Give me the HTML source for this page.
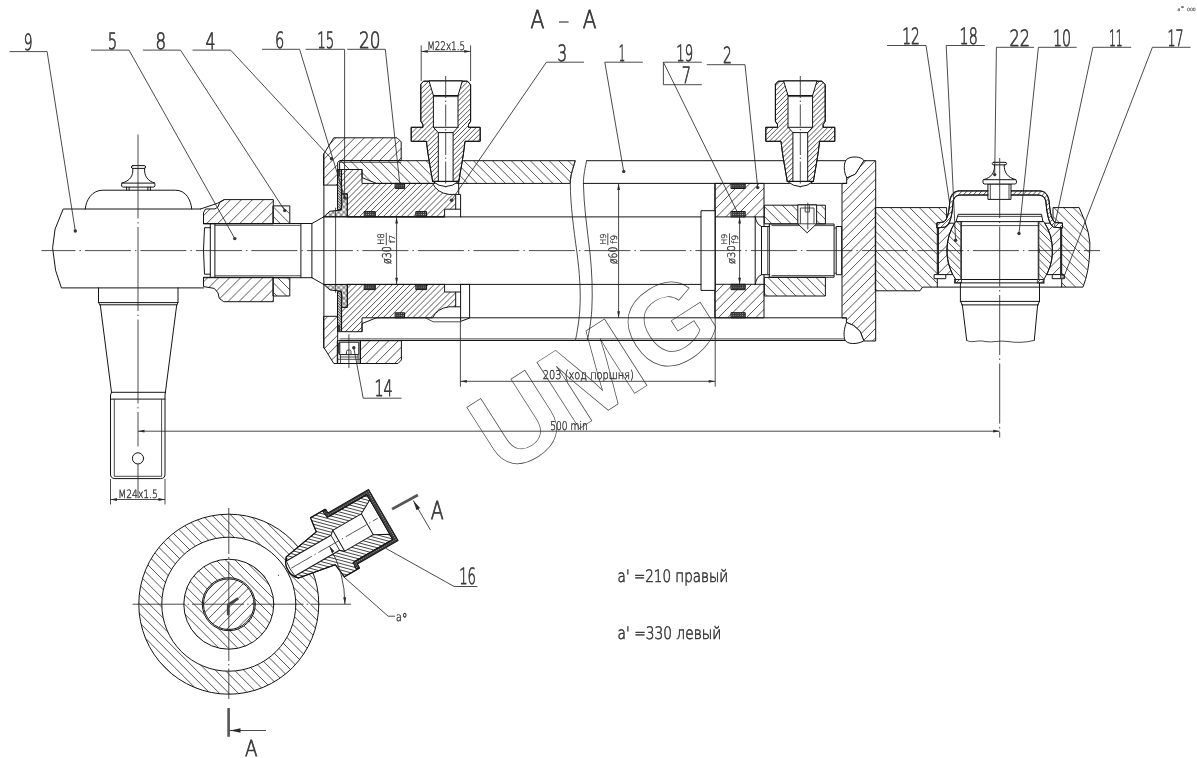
<!DOCTYPE html>
<html lang="ru"><head><meta charset="utf-8"><title>A - A</title>
<style>
html,body{margin:0;padding:0;background:#fff;}
body{width:1197px;height:758px;overflow:hidden;font-family:'DejaVu Sans Light','DejaVu Sans','Liberation Sans',sans-serif;}
svg{display:block;filter:grayscale(1)}
svg text{font-family:'DejaVu Sans Light','DejaVu Sans','Liberation Sans',sans-serif;font-weight:200;text-rendering:geometricPrecision;}
.m{stroke:#141414;stroke-width:1;stroke-linejoin:round;stroke-linecap:round}
.t{stroke:#2a2a2a;stroke-width:0.85}
.c{stroke:#2a2a2a;stroke-width:0.7;stroke-dasharray:44 3 1.5 3}
.cs{stroke:#2a2a2a;stroke-width:0.85;stroke-dasharray:22 2.5 1.5 2.5}
.k{stroke:#555;stroke-width:2.6}
</style></head>
<body>
<svg width="1197" height="758" viewBox="0 0 1197 758">
<defs>
<pattern id="fw" patternUnits="userSpaceOnUse" width="40" height="6.5" patternTransform="rotate(-45)"><line x1="0" y1="3.25" x2="40" y2="3.25" stroke="#2e2e2e" stroke-width="0.7"/></pattern>
<pattern id="fm" patternUnits="userSpaceOnUse" width="40" height="5.4" patternTransform="rotate(-45)"><line x1="0" y1="2.7" x2="40" y2="2.7" stroke="#2e2e2e" stroke-width="0.7"/></pattern>
<pattern id="fd" patternUnits="userSpaceOnUse" width="40" height="3.4" patternTransform="rotate(-45)"><line x1="0" y1="1.7" x2="40" y2="1.7" stroke="#2e2e2e" stroke-width="0.7"/></pattern>
<pattern id="ff" patternUnits="userSpaceOnUse" width="40" height="2.7" patternTransform="rotate(-45)"><line x1="0" y1="1.35" x2="40" y2="1.35" stroke="#2e2e2e" stroke-width="0.7"/></pattern>
<pattern id="bw" patternUnits="userSpaceOnUse" width="40" height="6.4" patternTransform="rotate(45)"><line x1="0" y1="3.2" x2="40" y2="3.2" stroke="#2e2e2e" stroke-width="0.7"/></pattern>
<pattern id="bm" patternUnits="userSpaceOnUse" width="40" height="5.3" patternTransform="rotate(45)"><line x1="0" y1="2.65" x2="40" y2="2.65" stroke="#2e2e2e" stroke-width="0.7"/></pattern>
<pattern id="bd" patternUnits="userSpaceOnUse" width="40" height="2.6" patternTransform="rotate(45)"><line x1="0" y1="1.3" x2="40" y2="1.3" stroke="#2e2e2e" stroke-width="0.7"/></pattern>
<pattern id="fx" patternUnits="userSpaceOnUse" width="40" height="2.6" patternTransform="rotate(-45)"><line x1="0" y1="1.3" x2="40" y2="1.3" stroke="#2e2e2e" stroke-width="0.7"/></pattern>
<pattern id="cs1" patternUnits="userSpaceOnUse" width="40" height="4.3" patternTransform="rotate(45)"><line x1="0" y1="2.15" x2="40" y2="2.15" stroke="#2e2e2e" stroke-width="0.7"/></pattern>
<pattern id="cs2" patternUnits="userSpaceOnUse" width="40" height="4.3" patternTransform="rotate(-45)"><line x1="0" y1="2.15" x2="40" y2="2.15" stroke="#2e2e2e" stroke-width="0.7"/></pattern>
<pattern id="f16" patternUnits="userSpaceOnUse" width="40" height="2.4" patternTransform="rotate(-45)"><line x1="0" y1="1.2" x2="40" y2="1.2" stroke="#333" stroke-width="0.7"/></pattern>
<pattern id="xx" patternUnits="userSpaceOnUse" width="3.8" height="3.8" patternTransform="rotate(45)"><path d="M0,1.9H3.8M1.9,0V3.8" stroke="#2a2a2a" stroke-width="0.65" fill="none"/></pattern>
<pattern id="dots" patternUnits="userSpaceOnUse" width="2.2" height="2.2"><rect width="2.2" height="2.2" fill="#3c3c3c"/><circle cx="1.1" cy="1.1" r="0.45" fill="#cfcfcf"/></pattern>
</defs>
<rect width="1197" height="758" fill="#fff"/>
<text transform="translate(503.4,477.4) rotate(-32.6)" font-size="114.5" fill="none" stroke="#4a4a4a" stroke-width="0.7" style="font-family:'Liberation Sans',sans-serif;font-weight:bold">UMG</text>
<path class="m" fill="none" d="M200.5,209.0 L63.2,209.0 L55.1,229.0 L52.6,247.8 L55.6,270.4 L61.4,287.9 L203.5,287.9"/>
<path class="m" fill="none" d="M85.2,209 C86,200 92,190.2 102.8,190.2 L175.4,190.2 C186,190.2 191,200 191.7,209"/>
<path class="m" fill="none" d="M133,165.6 H144 Q145.6,165.6 145.6,167 Q145.6,168.4 144,168.4 H133 Q131.4,168.4 131.4,167 Q131.4,165.6 133,165.6 Z"/>
<path class="m" fill="none" d="M132.8,168.4 C133.5,176 130,181 121.6,183.1 M144.6,168.4 C144,176 147.5,181 154.9,183.1"/>
<path class="m" fill="none" d="M122.6,183.1 H153.9 L154.9,184.2 V186 L153.9,187.1 H122.6 L121.6,186 V184.2 Z"/>
<path class="m" fill="none" d="M126.6,187.1 V190.2 M129.1,187.1 V190.2 M147.9,187.1 V190.2 M150.4,187.1 V190.2"/>
<path class="m" fill="none" d="M98.5,287.9 V302.6 H178 V287.9"/>
<path class="m" fill="none" d="M99.6,304.8 H177"/>
<path class="m" fill="none" d="M98.5,302.6 L100.3,305.1 L111.5,392.3 M178,302.6 L176.7,305.1 L165.4,392.3"/>
<line class="m" fill="none" x1="111.5" y1="392.3" x2="165.4" y2="392.3"/>
<line class="m" fill="none" x1="110.5" y1="399.1" x2="165.0" y2="399.1"/>
<path class="m" fill="none" d="M111.5,392.3 L110.5,395 V474 Q110.5,478.6 115,478.6 H160.5 Q165,478.6 165,474 V395 L165.4,392.3"/>
<path class="t" fill="none" d="M114.3,399.1 V476.3 H161.6 V399.1"/>
<circle class="m" fill="none" cx="138.0" cy="458.4" r="5.6"/>
<line class="t" fill="none" x1="110.5" y1="479.0" x2="110.5" y2="504.5"/>
<line class="t" fill="none" x1="165.0" y1="479.0" x2="165.0" y2="504.5"/>
<line class="t" fill="none" x1="110.5" y1="499.5" x2="165.0" y2="499.5"/>
<path fill="#2a2a2a" d="M110.5,499.5 L117.0,498.1 L117.0,500.9 Z"/>
<path fill="#2a2a2a" d="M165.0,499.5 L158.5,500.9 L158.5,498.1 Z"/>
<text transform="translate(118.30,497.80) scale(0.806,1) translate(-0.00,0)" font-size="11.39" fill="#3a3a3a" stroke="#3a3a3a" stroke-width="0.41">M24x1.5</text>
<clipPath id="c1"><path d="M203.5,223.5 L203.5,212.7 L205.5,209.0 L215.0,208.9 L218.0,207.0 L219.7,202.3 L224.3,199.6 L273.3,199.6 L273.3,223.5 Z" clip-rule="nonzero"/></clipPath>
<path clip-path="url(#c1)" fill="none" stroke="#2c2c2c" stroke-width="0.8" d="M207.5,189.6L216.4,180.7M200.7,207.4L234.3,173.9M201.1,218.1L244.9,174.2M203.6,226.6L253.4,176.8M207.6,233.6L260.5,180.8M212.8,239.5L266.3,185.9M219.1,244.2L271.0,192.3M226.7,247.6L274.4,199.9M236.0,249.4L276.2,209.1M248.3,248.1L275.0,221.4"/>
<path class="m" fill="none" d="M203.5,223.5 L203.5,212.7 L205.5,209.0 L215.0,208.9 L218.0,207.0 L219.7,202.3 L224.3,199.6 L273.3,199.6 L273.3,223.5 Z"/>
<clipPath id="c2"><path d="M203.5,277.7 L203.5,286.6 L214.3,288.4 L218.0,292.9 L219.3,298.4 L223.8,301.7 L273.3,301.7 L273.3,277.7 Z" clip-rule="nonzero"/></clipPath>
<path clip-path="url(#c2)" fill="none" stroke="#2c2c2c" stroke-width="0.8" d="M200.9,284.5L233.2,252.2M200.9,295.5L244.2,252.2M203.3,304.1L252.8,254.6M207.2,311.2L259.9,258.5M212.3,317.2L265.9,263.6M218.5,322.0L270.7,269.8M226.0,325.5L274.2,277.3M235.1,327.5L276.2,286.4M247.0,326.6L275.3,298.3"/>
<path class="m" fill="none" d="M203.5,277.7 L203.5,286.6 L214.3,288.4 L218.0,292.9 L219.3,298.4 L223.8,301.7 L273.3,301.7 L273.3,277.7 Z"/>
<path class="m" fill="none" d="M200.5,209.0 L217.7,203.2 L224.3,199.6"/>
<line class="m" fill="none" x1="203.5" y1="223.5" x2="311.9" y2="223.5"/>
<line class="m" fill="none" x1="203.5" y1="277.7" x2="311.9" y2="277.7"/>
<line class="t" fill="none" x1="214.9" y1="225.3" x2="300.9" y2="225.3"/>
<line class="t" fill="none" x1="214.9" y1="275.8" x2="300.9" y2="275.8"/>
<line class="m" fill="none" x1="210.3" y1="223.5" x2="210.3" y2="277.7"/>
<line class="m" fill="none" x1="214.9" y1="223.5" x2="214.9" y2="277.7"/>
<path class="m" fill="none" d="M210.3,227.7 H204.5 L203.5,250 L204.5,274.2 H210.3"/>
<clipPath id="c3"><path d="M273.3,205.9 H289.8 V223.5 H273.3 Z" clip-rule="nonzero"/></clipPath>
<path clip-path="url(#c3)" fill="none" stroke="#2c2c2c" stroke-width="0.8" d="M290.1,204.8L291.4,206.1M277.9,202.1L294.1,218.3M272.1,205.7L290.5,224.2M268.8,211.9L284.3,227.5"/>
<rect class="m" fill="none" x="273.3" y="205.9" width="16.5" height="17.6"/>
<clipPath id="c4"><path d="M273.3,277.7 H289.8 V296.0 H273.3 Z" clip-rule="nonzero"/></clipPath>
<path clip-path="url(#c4)" fill="none" stroke="#2c2c2c" stroke-width="0.8" d="M283.1,273.6L294.8,285.3M275.2,275.2L293.2,293.2M270.3,279.8L288.6,298.1M268.2,287.2L281.2,300.2"/>
<rect class="m" fill="none" x="273.3" y="277.7" width="16.5" height="18.3"/>
<line class="m" fill="none" x1="300.9" y1="223.5" x2="300.9" y2="277.7"/>
<line class="m" fill="none" x1="311.9" y1="223.5" x2="311.9" y2="277.7"/>
<line class="m" fill="none" x1="311.9" y1="223.5" x2="323.6" y2="216.9"/>
<line class="m" fill="none" x1="311.9" y1="277.7" x2="323.6" y2="284.4"/>
<line class="m" fill="none" x1="323.9" y1="153.8" x2="323.9" y2="348.0"/>
<line class="t" fill="none" x1="335.6" y1="207.7" x2="335.6" y2="292.7"/>
<line class="m" fill="none" x1="323.6" y1="216.9" x2="701.4" y2="216.9"/>
<line class="m" fill="none" x1="323.6" y1="284.4" x2="701.4" y2="284.4"/>
<clipPath id="c5"><path d="M341,160.7 H575.3 C571.6,172 570.2,178 570.3,183.4 H376.4 L362,177.6 V169.5 H339.6 V162.2 Q339.6,160.7 341,160.7 Z" clip-rule="nonzero"/></clipPath>
<path clip-path="url(#c5)" fill="none" stroke="#2c2c2c" stroke-width="0.8" d="M510.3,65.0L564.5,119.2M494.4,58.5L571.0,135.1M481.5,55.1L574.4,148.0M470.3,53.3L576.2,159.2M460.1,52.7L576.8,169.4M450.8,52.8L576.7,178.7M442.1,53.6L575.9,187.4M434.0,55.0L574.5,195.5M426.3,56.8L572.7,203.2M419.1,59.0L570.5,210.4M412.2,61.6L567.9,217.3M405.6,64.5L565.0,223.9M399.4,67.7L561.8,230.1M393.4,71.3L558.2,236.1M387.8,75.1L554.4,241.7M382.4,79.2L550.3,247.1M377.3,83.6L545.9,252.2M372.5,88.2L541.3,257.0M367.9,93.1L536.4,261.6M363.6,98.3L531.2,265.9M359.5,103.7L525.8,270.0M355.8,109.4L520.1,273.7M352.3,115.4L514.1,277.2M349.2,121.8L507.7,280.3M346.3,128.4L501.1,283.2M343.8,135.4L494.1,285.7M341.7,142.7L486.8,287.8M340.0,150.5L479.0,289.5M338.8,158.8L470.7,290.7M338.1,167.6L461.9,291.4M338.2,177.1L452.4,291.3M339.1,187.4L442.1,290.4M341.1,199.0L430.5,288.4M345.1,212.4L417.1,284.4M352.9,229.7L399.8,276.6"/>
<path class="m" fill="none" d="M341,160.7 H575.3 C571.6,172 570.2,178 570.3,183.4 H376.4 L362,177.6 V169.5 H339.6 V162.2 Q339.6,160.7 341,160.7 Z"/>
<line class="t" fill="none" x1="339.6" y1="162.3" x2="401.2" y2="162.3"/>
<line class="m" fill="none" x1="586.6" y1="160.7" x2="864.0" y2="160.7"/>
<line class="m" fill="none" x1="583.4" y1="183.4" x2="846.7" y2="183.4"/>
<line class="m" fill="none" x1="376.4" y1="317.8" x2="846.4" y2="317.8"/>
<line class="t" fill="none" x1="339.6" y1="338.9" x2="846.4" y2="338.9"/>
<line class="m" fill="none" x1="339.6" y1="340.5" x2="846.4" y2="340.5"/>
<path class="m" fill="none" d="M362,331.7 V323.6 L376.4,317.8"/>
<path class="t" fill="none" d="M575.3,160.7 C571.6,172 570.2,178 570.3,183.4 C570.5,205 573.5,228 577,253 C579.5,272 581,292 579.8,310 C579,322 577,333 575.3,341"/>
<path class="t" fill="none" d="M586.6,160.7 C584.2,172 583.4,178 583.4,183.4 C583.8,205 587,228 590,253 C592,272 592.8,292 591.8,310 C591,322 589,333 587.1,341"/>
<clipPath id="c6"><path d="M323.9,153.8 L333.8,137.8 L397.1,137.8 L401.2,141.9 L401.2,160.5 L339.6,160.5 L337.7,162.5 L337.7,185.1 L323.9,185.1 Z" clip-rule="nonzero"/></clipPath>
<path clip-path="url(#c6)" fill="none" stroke="#2c2c2c" stroke-width="0.8" d="M319.2,145.0L346.1,118.1M316.4,157.3L358.4,115.3M316.5,166.7L367.8,115.4M318.1,174.6L375.7,117.0M320.8,181.4L382.5,119.7M324.2,187.4L388.5,123.1M328.4,192.7L393.8,127.3M333.3,197.3L398.4,132.2M338.9,201.2L402.3,137.8M345.2,204.4L405.5,144.1M352.4,206.6L407.7,151.3M360.8,207.7L408.8,159.7M371.0,207.0L408.1,169.9M386.2,201.3L402.4,185.1"/>
<path class="m" fill="none" d="M323.9,153.8 L333.8,137.8 L397.1,137.8 L401.2,141.9 L401.2,160.5 L339.6,160.5 L337.7,162.5 L337.7,185.1 L323.9,185.1 Z"/>
<clipPath id="c7"><path d="M323.9,316.3 L337.7,316.3 L337.7,363.5 L333.8,363.5 L323.9,347.5 Z" clip-rule="nonzero"/></clipPath>
<path clip-path="url(#c7)" fill="none" stroke="#2c2c2c" stroke-width="0.8" d="M310.4,324.4L315.3,319.5M305.2,339.1L330.0,314.3M306.3,347.4L338.3,315.4M309.4,353.9L344.8,318.5M313.8,359.0L349.9,322.9M319.4,362.8L353.7,328.5M326.6,365.1L356.0,335.7M336.3,364.9L355.8,345.4"/>
<path class="m" fill="none" d="M323.9,316.3 L337.7,316.3 L337.7,363.5 L333.8,363.5 L323.9,347.5 Z"/>
<clipPath id="c8"><path d="M360.5,340.7 L401.4,340.7 L401.4,360.0 L398.0,363.5 L360.5,363.5 Z" clip-rule="nonzero"/></clipPath>
<path clip-path="url(#c8)" fill="none" stroke="#2c2c2c" stroke-width="0.8" d="M358.4,342.8L371.6,329.5M356.6,354.0L382.9,327.8M358.5,361.6L390.5,329.6M362.0,367.5L396.4,333.2M367.0,372.1L401.0,338.1M373.3,375.3L404.1,344.4M381.5,376.5L405.4,352.7M397.0,370.5L399.4,368.1"/>
<path class="m" fill="none" d="M360.5,340.7 L401.4,340.7 L401.4,360.0 L398.0,363.5 L360.5,363.5 Z"/>
<rect class="m" fill="none" x="337.7" y="340.7" width="22.8" height="22.8"/>
<rect class="m" fill="none" x="339.6" y="342.2" width="19.2" height="12.4"/>
<rect class="t" fill="#777" x="338.6" y="343.5" width="1.3" height="9.5"/>
<path class="t" fill="none" d="M339.6,357 H358.8 M340.5,354.6 V363.5 M358,354.6 V363.5 M346.5,354.6 V351.5 Q346.5,350 348,350 H349.5 Q351,350 351,351.5 V354.6"/>
<line class="t" fill="none" x1="337.7" y1="359.3" x2="360.5" y2="359.3"/>
<line class="t" fill="none" x1="348.9" y1="334.3" x2="348.9" y2="368.1"/>
<rect class="m" fill="#d0d0d0" x="337.9" y="169.5" width="3.5" height="40.1"/>
<clipPath id="c9"><path d="M337.9,169.5 H341.4 V209.6 H337.9 Z" clip-rule="nonzero"/></clipPath>
<path clip-path="url(#c9)" fill="none" stroke="#222" stroke-width="0.8" d="M347.1,169.8L359.4,182.1M343.4,168.8L360.4,185.8M340.4,168.4L360.8,188.8M337.8,168.5L360.7,191.4M335.4,168.8L360.4,193.8M333.3,169.4L359.8,195.9M331.3,170.1L359.1,197.9M329.5,171.0L358.2,199.7M327.9,172.0L357.2,201.3M326.3,173.2L356.0,202.9M324.9,174.4L354.8,204.3M323.6,175.8L353.4,205.6M322.4,177.3L351.9,206.8M321.4,179.0L350.2,207.8M320.5,180.7L348.5,208.7M319.7,182.6L346.6,209.5M319.1,184.7L344.5,210.1M318.7,187.0L342.2,210.5M318.5,189.5L339.7,210.7M318.7,192.4L336.8,210.5M319.5,195.9L333.3,209.7M321.9,200.9L328.3,207.3"/>
<rect class="t" fill="#666" x="338.3" y="170.0" width="1.3" height="6.0"/>
<path class="m" fill="url(#xx)" d="M341.9,193.9 L347.3,193.9 L347.3,216.7 L323.9,216.7 L330.0,211.2 L340.7,210.2 L341.9,205.2 Z"/>
<rect class="m" fill="#d0d0d0" x="337.9" y="291.6" width="3.5" height="40.1"/>
<clipPath id="c10"><path d="M337.9,291.6 H341.4 V331.7 H337.9 Z" clip-rule="nonzero"/></clipPath>
<path clip-path="url(#c10)" fill="none" stroke="#222" stroke-width="0.8" d="M349.3,292.8L358.5,302.0M344.9,291.2L360.1,306.4M341.7,290.6L360.7,309.6M338.9,290.5L360.8,312.4M336.4,290.8L360.5,314.9M334.2,291.2L360.1,317.1M332.2,291.9L359.4,319.1M330.3,292.7L358.6,321.0M328.6,293.7L357.6,322.7M327.0,294.7L356.6,324.3M325.5,296.0L355.3,325.8M324.2,297.3L354.0,327.1M322.9,298.7L352.6,328.4M321.8,300.3L351.0,329.5M320.8,302.0L349.3,330.5M320.0,303.9L347.4,331.3M319.3,305.9L345.4,332.0M318.8,308.1L343.2,332.5M318.6,310.5L340.8,332.7M318.6,313.2L338.1,332.7M319.1,316.4L334.9,332.2M320.4,320.4L330.9,330.9"/>
<rect class="t" fill="#666" x="338.3" y="325.2" width="1.3" height="6.0"/>
<path class="m" fill="url(#xx)" d="M341.9,307.3 L347.3,307.3 L347.3,284.5 L323.9,284.5 L330.0,290.0 L340.7,291.0 L341.9,296.0 Z"/>
<clipPath id="c11"><path d="M342,169.5 H362 V183.4 H432.6 Q437,192.8 449,194.4 H455.7 V209.2 H444.6 V216.7 H347.3 V193.9 H342 Z" clip-rule="nonzero"/></clipPath>
<path clip-path="url(#c11)" fill="none" stroke="#2c2c2c" stroke-width="0.8" d="M347.5,157.4L363.1,141.8M340.7,170.2L375.9,134.9M338.0,178.8L384.6,132.2M336.7,186.0L391.7,131.0M336.3,192.3L398.1,130.6M336.5,198.1L403.8,130.7M337.1,203.4L409.1,131.4M338.2,208.3L414.0,132.4M339.5,212.9L418.6,133.8M341.1,217.2L423.0,135.4M343.0,221.3L427.0,137.2M345.1,225.1L430.9,139.4M347.4,228.7L434.5,141.7M350.0,232.1L437.9,144.2M352.7,235.3L441.1,147.0M355.6,238.3L444.1,149.9M358.8,241.1L446.9,153.0M362.1,243.7L449.5,156.4M365.7,246.1L451.9,159.9M369.4,248.3L454.1,163.7M373.4,250.3L456.0,167.7M377.7,252.0L457.7,171.9M382.2,253.4L459.1,176.4M387.0,254.5L460.3,181.2M392.1,255.3L461.0,186.4M397.7,255.6L461.4,192.0M403.9,255.5L461.2,198.1M410.7,254.5L460.3,205.0M418.8,252.4L458.1,213.0M429.5,247.6L453.4,223.7"/>
<path class="m" fill="none" d="M342,169.5 H362 V183.4 H432.6 Q437,192.8 449,194.4 H455.7 V209.2 H444.6 V216.7 H347.3 V193.9 H342 Z"/>
<path class="m" fill="none" d="M455.7,194.4 H460.6 V216.9 M455.7,209.2 H460.6"/>
<rect class="m" fill="url(#dots)" x="395.5" y="183.4" width="9.1" height="5.0"/>
<rect class="m" fill="url(#dots)" x="364.6" y="211.6" width="10.7" height="5.1"/>
<rect class="m" fill="url(#dots)" x="416.2" y="211.6" width="10.4" height="5.1"/>
<clipPath id="c12"><path d="M342,331.7 H362 V317.8 H432.6 Q437,308.4 449,306.8 H455.7 V292.0 H444.6 V284.5 H347.3 V307.3 H342 Z" clip-rule="nonzero"/></clipPath>
<path clip-path="url(#c12)" fill="none" stroke="#2c2c2c" stroke-width="0.8" d="M342.3,281.4L372.1,251.5M338.7,290.9L381.7,248.0M337.0,298.5L389.3,246.3M336.4,305.1L395.9,245.6M336.4,311.1L401.8,245.6M336.9,316.5L407.3,246.1M337.8,321.5L412.3,247.0M339.0,326.3L417.0,248.2M340.5,330.7L421.4,249.8M342.3,334.8L425.6,251.5M344.3,338.7L429.5,253.6M346.6,342.4L433.2,255.8M349.0,345.9L436.7,258.3M351.7,349.2L439.9,260.9M354.6,352.3L443.0,263.8M357.6,355.1L445.9,266.9M360.9,357.8L448.6,270.1M364.4,360.3L451.0,273.6M368.0,362.5L453.3,277.3M371.9,364.6L455.3,281.2M376.1,366.4L457.1,285.3M380.5,367.9L458.7,289.7M385.2,369.1L459.9,294.4M390.2,370.1L460.8,299.5M395.6,370.6L461.3,304.9M401.6,370.6L461.3,310.8M408.1,370.0L460.7,317.4M415.7,368.3L459.1,324.9M425.1,364.9L455.6,334.4"/>
<path class="m" fill="none" d="M342,331.7 H362 V317.8 H432.6 Q437,308.4 449,306.8 H455.7 V292.0 H444.6 V284.5 H347.3 V307.3 H342 Z"/>
<path class="m" fill="none" d="M455.7,306.8 H460.6 V284.3 M455.7,292.0 H460.6"/>
<rect class="m" fill="url(#dots)" x="395.5" y="312.8" width="9.1" height="5.0"/>
<rect class="m" fill="url(#dots)" x="364.6" y="284.5" width="10.7" height="5.1"/>
<rect class="m" fill="url(#dots)" x="416.2" y="284.5" width="10.4" height="5.1"/>
<line class="m" fill="none" x1="347.3" y1="216.9" x2="444.4" y2="216.9"/>
<line class="m" fill="none" x1="347.3" y1="284.4" x2="444.4" y2="284.4"/>
<path class="m" fill="none" d="M460.6,306.8 V321.4 L469.6,318.1 V284.4"/>
<path class="t" fill="none" d="M425.5,317.9 L433.2,321.8 H460.4"/>
<line class="m" fill="none" x1="460.4" y1="284.4" x2="469.6" y2="284.4"/>
<path class="m" fill="#fff" d="M432.6,181.4 Q445.7,192 458.8,181.4 Z"/>
<path class="m" fill="#fff" d="M424.0,81.2 H467.4 L470.6,84.6 V121.2 L468.5,124.6 V127.3 H480.2 V141.3 H465.0 C463.2,158 460.2,172 458.8,181.4 H432.6 C431.2,172 428.2,158 426.4,141.3 H411.2 V127.3 H422.9 V124.6 L420.8,121.2 V84.6 Z"/>
<clipPath id="c13"><path d="M424.0,81.2 H467.4 L470.6,84.6 V121.2 L468.5,124.6 V127.3 H480.2 V141.3 H465.0 C463.2,158 460.2,172 458.8,181.4 H432.6 C431.2,172 428.2,158 426.4,141.3 H411.2 V127.3 H422.9 V124.6 L420.8,121.2 V84.6 Z" clip-rule="nonzero"/></clipPath>
<path clip-path="url(#c13)" fill="none" stroke="#2c2c2c" stroke-width="0.8" d="M397.7,92.3L406.7,83.3M389.5,105.4L419.8,75.1M386.5,113.4L427.8,72.1M384.9,120.0L434.4,70.5M384.1,125.7L440.1,69.7M383.9,130.9L445.3,69.5M384.0,135.7L450.1,69.6M384.5,140.2L454.6,70.1M385.3,144.4L458.8,70.9M386.3,148.3L462.7,71.9M387.5,152.1L466.5,73.1M388.9,155.6L470.0,74.5M390.4,159.0L473.4,76.0M392.2,162.2L476.6,77.8M394.0,165.3L479.7,79.6M396.1,168.2L482.6,81.7M398.3,171.0L485.4,83.9M400.6,173.6L488.0,86.2M403.1,176.1L490.5,88.7M405.7,178.4L492.8,91.3M408.4,180.6L495.0,94.0M411.3,182.7L497.1,96.9M414.3,184.6L499.0,99.9M417.5,186.3L500.7,103.1M420.9,187.9L502.3,106.5M424.4,189.4L503.8,110.0M428.1,190.6L505.0,113.7M432.1,191.6L506.0,117.7M436.2,192.4L506.8,121.8M440.6,192.9L507.3,126.2M445.4,193.1L507.5,131.0M450.5,192.9L507.3,136.1M456.2,192.2L506.6,141.8M462.6,190.8L505.2,148.2M470.3,188.0L502.4,155.9M481.7,181.6L496.0,167.3"/>
<path class="m" fill="none" d="M424.0,81.2 H467.4 L470.6,84.6 V121.2 L468.5,124.6 V127.3 H480.2 V141.3 H465.0 C463.2,158 460.2,172 458.8,181.4 H432.6 C431.2,172 428.2,158 426.4,141.3 H411.2 V127.3 H422.9 V124.6 L420.8,121.2 V84.6 Z"/>
<path class="m" fill="#fff" d="M429.1,81.2 L433.4,95.5 V127.3 L438.3,132.6 V181.4 H453.1 V132.6 L458.0,127.3 V95.5 L462.3,81.2 Z"/>
<line class="m" fill="none" x1="433.4" y1="95.5" x2="458.0" y2="95.5"/>
<line class="t" fill="none" x1="433.4" y1="96.6" x2="458.0" y2="96.6"/>
<line class="m" fill="none" x1="433.4" y1="127.3" x2="458.0" y2="127.3"/>
<line class="m" fill="none" x1="438.3" y1="132.6" x2="453.1" y2="132.6"/>
<line class="m" fill="none" x1="432.6" y1="181.4" x2="458.8" y2="181.4"/>
<line class="cs" fill="none" x1="445.7" y1="76.0" x2="445.7" y2="190.0"/>
<line class="m" fill="none" x1="458.7" y1="181.4" x2="458.7" y2="194.4"/>
<path class="m" fill="#fff" d="M787.2,181.4 Q800.3,192 813.4,181.4 Z"/>
<path class="m" fill="#fff" d="M778.6,81.2 H822.0 L825.2,84.6 V121.2 L823.1,124.6 V127.3 H834.8 V141.3 H819.6 C817.8,158 814.8,172 813.4,181.4 H787.2 C785.8,172 782.8,158 781.0,141.3 H765.8 V127.3 H777.5 V124.6 L775.4,121.2 V84.6 Z"/>
<clipPath id="c14"><path d="M778.6,81.2 H822.0 L825.2,84.6 V121.2 L823.1,124.6 V127.3 H834.8 V141.3 H819.6 C817.8,158 814.8,172 813.4,181.4 H787.2 C785.8,172 782.8,158 781.0,141.3 H765.8 V127.3 H777.5 V124.6 L775.4,121.2 V84.6 Z" clip-rule="nonzero"/></clipPath>
<path clip-path="url(#c14)" fill="none" stroke="#2c2c2c" stroke-width="0.8" d="M747.9,98.6L767.6,78.9M742.8,108.5L777.5,73.8M740.4,115.9L784.9,71.4M739.2,122.1L791.1,70.2M738.6,127.6L796.6,69.6M738.5,132.7L801.7,69.5M738.8,137.3L806.3,69.8M739.4,141.7L810.7,70.4M740.2,145.8L814.8,71.2M741.3,149.7L818.7,72.3M742.5,153.4L822.4,73.5M744.0,156.9L825.9,75.0M745.6,160.2L829.2,76.6M747.4,163.3L832.3,78.4M749.4,166.3L835.3,80.4M751.5,169.2L838.2,82.5M753.7,171.9L840.9,84.7M756.1,174.5L843.5,87.1M758.6,176.9L845.9,89.6M761.2,179.2L848.2,92.2M764.0,181.4L850.4,95.0M767.0,183.4L852.4,98.0M770.1,185.2L854.2,101.1M773.3,186.9L855.9,104.3M776.7,188.5L857.5,107.7M780.3,189.8L858.8,111.3M784.1,191.0L860.0,115.1M788.1,191.9L860.9,119.1M792.4,192.6L861.6,123.4M796.9,193.0L862.0,127.9M801.8,193.1L862.1,132.8M807.1,192.8L861.8,138.1M813.0,191.8L860.8,144.0M819.8,190.0L859.0,150.8M828.2,186.5L855.5,159.2"/>
<path class="m" fill="none" d="M778.6,81.2 H822.0 L825.2,84.6 V121.2 L823.1,124.6 V127.3 H834.8 V141.3 H819.6 C817.8,158 814.8,172 813.4,181.4 H787.2 C785.8,172 782.8,158 781.0,141.3 H765.8 V127.3 H777.5 V124.6 L775.4,121.2 V84.6 Z"/>
<path class="m" fill="#fff" d="M783.7,81.2 L788.0,95.5 V127.3 L792.9,132.6 V181.4 H807.7 V132.6 L812.6,127.3 V95.5 L816.9,81.2 Z"/>
<line class="m" fill="none" x1="788.0" y1="95.5" x2="812.6" y2="95.5"/>
<line class="t" fill="none" x1="788.0" y1="96.6" x2="812.6" y2="96.6"/>
<line class="m" fill="none" x1="788.0" y1="127.3" x2="812.6" y2="127.3"/>
<line class="m" fill="none" x1="792.9" y1="132.6" x2="807.7" y2="132.6"/>
<line class="m" fill="none" x1="787.2" y1="181.4" x2="813.4" y2="181.4"/>
<line class="cs" fill="none" x1="800.3" y1="76.0" x2="800.3" y2="190.0"/>
<line class="t" fill="none" x1="421.2" y1="45.4" x2="421.2" y2="81.0"/>
<line class="t" fill="none" x1="470.6" y1="45.4" x2="470.6" y2="81.0"/>
<line class="t" fill="none" x1="421.2" y1="51.4" x2="470.6" y2="51.4"/>
<path fill="#2a2a2a" d="M421.2,51.4 L427.7,50.0 L427.7,52.8 Z"/>
<path fill="#2a2a2a" d="M470.6,51.4 L464.1,52.8 L464.1,50.0 Z"/>
<text transform="translate(427.20,50.00) scale(0.743,1) translate(-0.00,0)" font-size="11.80" fill="#3a3a3a" stroke="#3a3a3a" stroke-width="0.42">M22x1.5</text>
<clipPath id="c15"><path d="M715.2,183.4 H764 V216.9 H715.2 Z" clip-rule="nonzero"/></clipPath>
<path clip-path="url(#c15)" fill="none" stroke="#2c2c2c" stroke-width="0.8" d="M709.3,196.1L735.6,169.8M709.4,205.3L744.7,170.0M711.6,212.5L751.9,172.1M715.0,218.4L757.8,175.6M719.5,223.2L762.7,180.0M725.0,227.0L766.5,185.6M731.7,229.7L769.2,192.2M740.0,230.7L770.2,200.5M751.9,228.2L767.6,212.4"/>
<path class="m" fill="none" d="M715.2,183.4 H764 V216.9 H715.2 Z"/>
<line class="m" fill="none" x1="764.0" y1="216.9" x2="764.0" y2="226.5"/>
<rect class="m" fill="url(#dots)" x="731.4" y="183.4" width="13.8" height="5.1"/>
<rect class="m" fill="url(#dots)" x="731.4" y="211.5" width="13.8" height="5.4"/>
<clipPath id="c16"><path d="M764.7,205.2 H825.4 V223.8 H764.7 Z" clip-rule="nonzero"/></clipPath>
<path clip-path="url(#c16)" fill="none" stroke="#2c2c2c" stroke-width="0.8" d="M811.0,185.9L823.7,198.6M797.3,181.8L827.7,212.2M788.3,182.5L827.1,221.2M781.1,184.9L824.7,228.4M775.1,188.5L821.0,234.4M770.2,193.2L816.4,239.4M766.3,198.9L810.7,243.3M763.5,205.7L803.8,246.0M762.3,214.2L795.4,247.2M764.3,225.8L783.8,245.2"/>
<rect class="m" fill="none" x="764.7" y="205.2" width="60.7" height="18.6"/>
<path class="m" fill="none" d="M755.2,216.9 Q756.5,224.5 761.5,226.5 H769.7"/>
<clipPath id="c17"><path d="M715.2,317.8 H764 V284.3 H715.2 Z" clip-rule="nonzero"/></clipPath>
<path clip-path="url(#c17)" fill="none" stroke="#2c2c2c" stroke-width="0.8" d="M713.3,285.4L724.0,274.7M709.1,299.0L737.5,270.5M709.7,307.7L746.2,271.2M712.2,314.6L753.1,273.6M715.8,320.3L758.8,277.2M720.5,324.9L763.5,281.9M726.2,328.5L767.1,287.6M733.1,330.9L769.5,294.6M741.8,331.6L770.1,303.3M755.6,327.1L765.7,317.0"/>
<path class="m" fill="none" d="M715.2,317.8 H764 V284.3 H715.2 Z"/>
<line class="m" fill="none" x1="764.0" y1="284.3" x2="764.0" y2="274.7"/>
<rect class="m" fill="url(#dots)" x="731.4" y="312.7" width="13.8" height="5.1"/>
<rect class="m" fill="url(#dots)" x="731.4" y="284.3" width="13.8" height="5.4"/>
<clipPath id="c18"><path d="M764.7,277.4 H825.4 V296.0 H764.7 Z" clip-rule="nonzero"/></clipPath>
<path clip-path="url(#c18)" fill="none" stroke="#2c2c2c" stroke-width="0.8" d="M803.1,255.0L826.8,278.6M792.6,254.1L827.7,289.2M784.6,255.7L826.1,297.2M778.0,258.7L823.0,303.7M772.6,262.9L818.9,309.2M768.1,268.1L813.7,313.6M764.7,274.3L807.5,317.0M762.7,281.8L799.9,319.1M762.7,291.4L790.3,319.1"/>
<rect class="m" fill="none" x="764.7" y="277.4" width="60.7" height="18.6"/>
<path class="m" fill="none" d="M755.2,284.3 Q756.5,276.7 761.5,274.7 H769.7"/>
<rect class="m" fill="#fff" x="701.4" y="210.7" width="13.8" height="79.7"/>
<line class="m" fill="none" x1="715.2" y1="183.4" x2="715.2" y2="317.8"/>
<line class="m" fill="none" x1="755.2" y1="216.9" x2="755.2" y2="284.4"/>
<line class="m" fill="none" x1="761.5" y1="226.5" x2="761.5" y2="274.7"/>
<line class="t" fill="none" x1="767.7" y1="226.5" x2="767.7" y2="274.7"/>
<rect class="m" fill="none" x="769.7" y="224.0" width="64.4" height="53.2"/>
<line class="t" fill="none" x1="771.5" y1="225.6" x2="834.1" y2="225.6"/>
<line class="t" fill="none" x1="771.5" y1="275.6" x2="834.1" y2="275.6"/>
<rect class="m" fill="none" x="836.6" y="226.5" width="5.1" height="48.2"/>
<line class="t" fill="none" x1="834.1" y1="228.0" x2="836.6" y2="228.0"/>
<line class="t" fill="none" x1="834.1" y1="273.2" x2="836.6" y2="273.2"/>
<path class="m" fill="#fff" d="M797.8,205.2 V223.8 L807.2,232.8 L816.6,223.8 V205.2 Z"/>
<path class="t" fill="none" d="M800.4,208 V223.8 M814,208 V223.8 M800.4,208 H814 M805.2,205.2 V212 H809.4 V205.2"/>
<line class="t" fill="none" x1="797.8" y1="223.8" x2="816.6" y2="223.8"/>
<line class="t" fill="none" x1="807.8" y1="202.7" x2="807.8" y2="229.5"/>
<clipPath id="c19"><path d="M842.4,183.4 H846.7 V177.6 L855.4,173.9 L863.5,161.3 L864,160.7 H875.7 V341 H863.9 L860.2,331.4 L853.9,325.7 L846.4,322.7 V318 H842.4 Z" clip-rule="nonzero"/></clipPath>
<path clip-path="url(#c19)" fill="none" stroke="#2c2c2c" stroke-width="0.8" d="M785.2,194.8L803.0,177.0M773.0,216.3L824.5,164.8M768.8,230.0L838.2,160.6M766.9,241.2L849.4,158.7M766.4,251.0L859.2,158.2M766.8,259.9L868.1,158.6M768.0,268.1L876.3,159.8M769.8,275.6L883.8,161.6M772.0,282.7L890.9,163.8M774.7,289.3L897.5,166.5M777.9,295.5L903.7,169.7M781.4,301.4L909.6,173.2M785.2,306.8L915.0,177.0M789.4,312.0L920.2,181.2M793.9,316.8L925.0,185.7M798.8,321.3L929.5,190.6M804.0,325.4L933.6,195.8M809.5,329.2L937.4,201.3M815.4,332.6L940.8,207.2M821.7,335.7L943.9,213.5M828.4,338.3L946.5,220.2M835.6,340.5L948.7,227.4M843.2,342.2L950.4,235.0M851.5,343.2L951.4,243.3M860.5,343.5L951.7,252.3M870.6,342.8L951.0,262.4M882.1,340.6L948.8,273.9M896.4,335.7L943.9,288.2"/>
<path class="m" fill="none" d="M842.4,183.4 H846.7 V177.6 L855.4,173.9 L863.5,161.3 L864,160.7 H875.7 V341 H863.9 L860.2,331.4 L853.9,325.7 L846.4,322.7 V318 H842.4 Z"/>
<path class="m" fill="#fff" d="M846.7,177.6 C843.5,172 843.5,163 846.5,159.5 C850,156.3 858,156.3 862,158.6 C864.5,160.3 863.8,161.5 863.5,161.3 L855.4,173.9 Z"/>
<path class="m" fill="#fff" d="M846.4,322.7 C844,328 843.2,336 845.1,340.2 C847,344 856,345 863.9,340.9 L860.2,331.4 L853.9,325.7 Z"/>
<clipPath id="c20"><path d="M875.7,207.6 L946.6,207.6 L946.6,223.0 L937.3,223.0 L937.3,287.1 L922.6,287.1 L920.0,290.8 L875.7,290.8 Z" clip-rule="nonzero"/></clipPath>
<path clip-path="url(#c20)" fill="none" stroke="#2c2c2c" stroke-width="0.8" d="M947.8,207.3L953.1,212.6M926.6,195.7L964.6,233.8M914.9,193.7L966.7,245.4M905.5,193.8L966.5,254.9M897.3,195.3L965.1,263.0M890.1,197.7L962.7,270.3M883.6,200.8L959.5,276.7M877.8,204.6L955.7,282.5M872.6,209.1L951.3,287.7M868.0,214.1L946.3,292.4M864.0,219.7L940.7,296.4M860.6,225.9L934.4,299.7M857.9,232.9L927.5,302.4M856.1,240.7L919.7,304.2M855.5,249.6L910.7,304.9M856.6,260.4L899.9,303.7M862.1,275.5L884.9,298.3"/>
<path class="m" fill="none" d="M875.7,207.6 L946.6,207.6 L946.6,223.0 L937.3,223.0 L937.3,287.1 L922.6,287.1 L920.0,290.8 L875.7,290.8 Z"/>
<clipPath id="c21"><path d="M1053.4,207.6 H1079.2 Q1092,235 1089.7,252 Q1089,272 1083,287.1 H1061.7 V223 H1053.4 Z" clip-rule="nonzero"/></clipPath>
<path clip-path="url(#c21)" fill="none" stroke="#2c2c2c" stroke-width="0.8" d="M1090.6,205.9L1114.2,229.5M1077.5,202.4L1117.6,242.5M1067.9,202.4L1117.6,252.1M1059.9,204.0L1116.0,260.2M1053.0,206.7L1113.4,267.1M1046.9,210.3L1109.8,273.1M1041.6,214.6L1105.5,278.5M1037.0,219.6L1100.4,283.0M1033.2,225.4L1094.6,286.8M1030.2,232.0L1088.0,289.9M1028.2,239.6L1080.4,291.9M1027.5,248.6L1071.5,292.5M1029.3,260.0L1060.1,290.7"/>
<path class="m" fill="none" d="M1053.4,207.6 H1079.2 Q1092,235 1089.7,252 Q1089,272 1083,287.1 H1061.7 V223 H1053.4 Z"/>
<line class="m" fill="none" x1="937.3" y1="287.1" x2="1061.7" y2="287.1"/>
<line class="t" fill="none" x1="938.5" y1="228.0" x2="938.5" y2="274.6"/>
<line class="t" fill="none" x1="1060.6" y1="228.0" x2="1060.6" y2="274.6"/>
<clipPath id="c22"><path d="M938.5,223.2 L954.5,223.2 A52.8,52.8 0 0 0 952.7,274.6 L938.5,274.6 Z" clip-rule="nonzero"/></clipPath>
<path clip-path="url(#c22)" fill="none" stroke="#2c2c2c" stroke-width="0.8" d="M878.4,189.0L893.7,173.7M864.7,212.4L917.1,160.0M860.1,226.6L931.3,155.4M858.1,238.2L942.9,153.4M857.5,248.4L953.1,152.8M857.9,257.6L962.3,153.2M859.0,266.1L970.8,154.3M860.8,274.0L978.7,156.1M863.1,281.3L986.0,158.4M865.9,288.1L992.8,161.2M869.0,294.6L999.3,164.3M872.6,300.6L1005.3,167.9M876.5,306.3L1011.0,171.8M880.8,311.7L1016.4,176.1M885.4,316.7L1021.4,180.7M890.4,321.3L1026.0,185.7M895.7,325.6L1030.3,191.0M901.4,329.6L1034.3,196.7M907.4,333.2L1037.9,202.7M913.8,336.4L1041.1,209.1M920.6,339.2L1043.9,215.9M927.9,341.5L1046.2,223.2M935.7,343.3L1048.0,231.0M944.1,344.5L1049.2,239.4M953.2,345.0L1049.7,248.5M963.4,344.5L1049.2,258.7M974.8,342.6L1047.3,270.1M988.7,338.4L1043.1,284.0M1010.0,326.7L1031.4,305.3"/>
<path class="m" fill="none" d="M938.5,223.2 L954.5,223.2 A52.8,52.8 0 0 0 952.7,274.6 L938.5,274.6 Z"/>
<clipPath id="c23"><path d="M1060.6,223.2 L1044.9,223.2 A52.8,52.8 0 0 1 1046.7,274.6 L1060.6,274.6 Z" clip-rule="nonzero"/></clipPath>
<path clip-path="url(#c23)" fill="none" stroke="#2c2c2c" stroke-width="0.8" d="M962.3,201.3L998.2,165.4M954.6,218.7L1015.6,157.7M951.3,231.6L1028.5,154.4M949.9,242.6L1039.5,153.0M949.8,252.3L1049.2,152.9M950.5,261.2L1058.1,153.6M951.9,269.4L1066.3,155.0M953.9,277.0L1073.9,157.0M956.4,284.2L1081.1,159.5M959.3,290.8L1087.7,162.4M962.7,297.1L1094.0,165.8M966.4,303.0L1099.9,169.5M970.5,308.6L1105.5,173.6M974.9,313.8L1110.7,178.0M979.6,318.6L1115.5,182.7M984.7,323.1L1120.0,187.8M990.2,327.3L1124.2,193.3M996.0,331.1L1128.0,199.1M1002.2,334.5L1131.4,205.3M1008.7,337.6L1134.5,211.8M1015.8,340.2L1137.1,218.9M1023.2,342.3L1139.2,226.3M1031.3,343.9L1140.8,234.4M1040.0,344.8L1141.7,243.1M1049.5,344.9L1141.8,252.6M1060.1,343.9L1140.8,263.2M1072.4,341.3L1138.2,275.5M1088.0,335.2L1132.1,291.1"/>
<path class="m" fill="none" d="M1060.6,223.2 L1044.9,223.2 A52.8,52.8 0 0 1 1046.7,274.6 L1060.6,274.6 Z"/>
<clipPath id="c24"><path d="M960.5,221.6 L955.6,221.6 A52.8,52.8 0 0 0 955.6,279.5 L960.5,279.5 Z" clip-rule="nonzero"/></clipPath>
<path clip-path="url(#c24)" fill="none" stroke="#2c2c2c" stroke-width="0.8" d="M1002.5,164.1L1042.0,203.7M989.1,158.1L1048.0,217.0M978.6,155.0L1051.2,227.6M969.5,153.2L1052.9,236.6M961.3,152.4L1053.8,244.8M953.8,152.2L1053.9,252.3M946.8,152.6L1053.5,259.3M940.3,153.4L1052.7,265.9M934.1,154.6L1051.5,272.0M928.3,156.1L1050.0,277.9M922.7,157.9L1048.3,283.4M917.4,160.0L1046.2,288.7M912.4,162.3L1043.9,293.8M907.5,164.8L1041.4,298.6M902.9,167.5L1038.6,303.2M898.5,170.5L1035.7,307.6M894.3,173.7L1032.5,311.8M890.3,177.0L1029.1,315.8M886.5,180.6L1025.6,319.6M882.9,184.3L1021.8,323.2M879.5,188.3L1017.9,326.6M876.3,192.4L1013.7,329.8M873.3,196.7L1009.4,332.8M870.5,201.3L1004.8,335.6M867.9,206.1L1000.1,338.2M865.6,211.1L995.1,340.6M863.4,216.3L989.9,342.7M861.6,221.8L984.4,344.6M860.0,227.6L978.6,346.1M858.7,233.7L972.5,347.4M857.8,240.1L966.0,348.3M857.3,247.0L959.2,348.8M857.4,254.3L951.8,348.8M858.0,262.3L943.8,348.2M859.5,271.2L935.0,346.7M862.2,281.2L924.9,344.0M867.2,293.6L912.5,338.9M882.1,315.8L890.3,324.1"/>
<path class="m" fill="none" d="M960.5,221.6 L955.6,221.6 A52.8,52.8 0 0 0 955.6,279.5 L960.5,279.5 Z"/>
<clipPath id="c25"><path d="M1039.2,221.6 L1043.8,221.6 A52.8,52.8 0 0 1 1043.8,279.5 L1039.2,279.5 Z" clip-rule="nonzero"/></clipPath>
<path clip-path="url(#c25)" fill="none" stroke="#2c2c2c" stroke-width="0.8" d="M1090.8,164.2L1130.2,203.6M1077.4,158.1L1136.2,217.0M1066.9,155.0L1139.4,227.5M1057.8,153.2L1141.1,236.6M1049.6,152.4L1141.9,244.8M1042.1,152.2L1142.1,252.3M1035.1,152.6L1141.7,259.3M1028.5,153.4L1140.9,265.8M1022.4,154.6L1139.8,272.0M1016.5,156.1L1138.3,277.8M1010.9,157.9L1136.5,283.4M1005.6,159.9L1134.4,288.7M1000.6,162.2L1132.1,293.8M995.8,164.8L1129.6,298.6M991.2,167.5L1126.8,303.2M986.8,170.5L1123.9,307.6M982.6,173.6L1120.7,311.8M978.6,177.0L1117.4,315.8M974.8,180.5L1113.8,319.6M971.2,184.3L1110.1,323.2M967.8,188.2L1106.1,326.6M964.5,192.4L1102.0,329.8M961.5,196.7L1097.6,332.8M958.7,201.3L1093.1,335.6M956.1,206.0L1088.3,338.2M953.8,211.0L1083.3,340.6M951.7,216.3L1078.1,342.7M949.8,221.8L1072.6,344.6M948.2,227.5L1066.8,346.1M946.9,233.6L1060.7,347.4M946.0,240.1L1054.3,348.3M945.5,246.9L1047.4,348.8M945.6,254.3L1040.1,348.8M946.2,262.3L1032.1,348.2M947.7,271.1L1023.3,346.7M950.4,281.2L1013.2,344.0M955.4,293.5L1000.8,339.0M969.9,315.4L978.9,324.4"/>
<path class="m" fill="none" d="M1039.2,221.6 L1043.8,221.6 A52.8,52.8 0 0 1 1043.8,279.5 L1039.2,279.5 Z"/>
<line class="t" fill="none" x1="961.5" y1="221.6" x2="961.5" y2="279.5"/>
<line class="t" fill="none" x1="1038.2" y1="221.6" x2="1038.2" y2="279.5"/>
<path class="m" fill="#fff" d="M958.6,214.3 L1041.5,214.3 L1042.9,221.6 L956.4,221.6 Z"/>
<line class="t" fill="none" x1="958.0" y1="216.4" x2="1042.0" y2="216.4"/>
<line class="t" fill="none" x1="960.5" y1="225.6" x2="1039.2" y2="225.6"/>
<line class="m" fill="none" x1="954.7" y1="279.5" x2="1043.9" y2="279.5"/>
<line class="m" fill="none" x1="954.7" y1="282.9" x2="1043.9" y2="282.9"/>
<line class="m" fill="none" x1="954.7" y1="279.5" x2="954.7" y2="282.9"/>
<line class="m" fill="none" x1="1043.9" y1="279.5" x2="1043.9" y2="282.9"/>
<clipPath id="c26"><path d="M955.6,279.5 H961.5 V282.9 H955.6 Z" clip-rule="nonzero"/></clipPath>
<path clip-path="url(#c26)" fill="none" stroke="#2c2c2c" stroke-width="0.8" d="M954.1,281.3L958.7,276.8M955.1,284.0L961.3,277.8M957.4,285.4L962.8,280.0"/>
<rect class="t" fill="none" x="955.6" y="279.5" width="5.9" height="3.4"/>
<clipPath id="c27"><path d="M1037.3,279.5 H1043.7 V282.9 H1037.3 Z" clip-rule="nonzero"/></clipPath>
<path clip-path="url(#c27)" fill="none" stroke="#2c2c2c" stroke-width="0.8" d="M1035.9,280.4L1039.7,276.6M1036.5,283.5L1042.8,277.2M1038.4,285.3L1044.6,279.1M1041.7,285.7L1045.0,282.4"/>
<rect class="t" fill="none" x="1037.3" y="279.5" width="6.4" height="3.4"/>
<rect class="m" fill="#fff" x="934.5" y="274.6" width="11.3" height="4.1"/>
<rect class="m" fill="#fff" x="1052.6" y="274.6" width="11.8" height="4.1"/>
<clipPath id="c28"><path d="M1060.6,275.2 H1064.0 V278.0 H1060.6 Z" clip-rule="nonzero"/></clipPath>
<path clip-path="url(#c28)" fill="none" stroke="#2c2c2c" stroke-width="0.8" d="M1059.3,275.4L1061.1,273.6M1059.8,278.6L1064.3,274.1M1062.3,279.8L1065.5,276.6"/>
<rect class="t" fill="none" x="1060.6" y="275.2" width="3.4" height="2.8"/>
<path class="t" fill="none" d="M947.3,248.6 V252.4"/>
<path class="t" fill="none" d="M960.3,248.6 V252.4"/>
<path class="t" fill="none" d="M1039.3,248.6 V252.4"/>
<path class="t" fill="none" d="M1052.2,248.6 V252.4"/>
<path class="m" fill="#fff" d="M937.3,222.8 L942.8,222.2 C947.5,221 949,212 949.7,202 C950.5,195 953.5,190.9 959.6,190.9 L1038.7,190.9 C1045,190.9 1048,194 1049.2,202 C1050,212 1051.5,221 1055.5,222.6 L1062.5,223 L1062.5,228 L1053.6,227.1 C1049,225 1047,214 1046,203 C1045.3,197 1043,195 1036.7,195 L961.6,195 C956,195 953.6,197 953,203 C952.2,214 950.5,225 944.8,227.1 L937.3,228 Z"/>
<clipPath id="c29"><path d="M937.3,222.8 L942.8,222.2 C947.5,221 949,212 949.7,202 C950.5,195 953.5,190.9 959.6,190.9 L1038.7,190.9 C1045,190.9 1048,194 1049.2,202 C1050,212 1051.5,221 1055.5,222.6 L1062.5,223 L1062.5,228 L1053.6,227.1 C1049,225 1047,214 1046,203 C1045.3,197 1043,195 1036.7,195 L961.6,195 C956,195 953.6,197 953,203 C952.2,214 950.5,225 944.8,227.1 L937.3,228 Z" clip-rule="nonzero"/></clipPath>
<path clip-path="url(#c29)" fill="none" stroke="#2c2c2c" stroke-width="0.8" d="M942.7,175.9L966.4,152.3M938.1,185.5L976.0,147.6M935.7,192.8L983.3,145.3M934.4,199.1L989.5,144.0M933.8,204.7L995.1,143.3M933.6,209.8L1000.2,143.2M933.8,214.5L1005.0,143.4M934.3,219.0L1009.4,143.8M935.0,223.2L1013.6,144.6M936.0,227.2L1017.6,145.6M937.2,230.9L1021.4,146.7M938.5,234.5L1025.0,148.1M940.1,238.0L1028.4,149.6M941.7,241.3L1031.7,151.3M943.6,244.4L1034.8,153.1M945.5,247.4L1037.8,155.1M947.6,250.2L1040.7,157.2M949.9,252.9L1043.4,159.4M952.2,255.5L1046.0,161.8M954.7,258.0L1048.4,164.3M957.4,260.3L1050.7,166.9M960.1,262.5L1052.9,169.7M963.0,264.5L1055.0,172.6M966.0,266.4L1056.9,175.6M969.2,268.2L1058.7,178.8M972.6,269.8L1060.3,182.1M976.0,271.3L1061.7,185.6M979.7,272.6L1063.0,189.2M983.5,273.7L1064.1,193.1M987.6,274.6L1065.0,197.1M991.9,275.3L1065.7,201.4M996.4,275.6L1066.1,206.0M1001.3,275.7L1066.2,210.9M1006.6,275.4L1065.9,216.1M1012.4,274.6L1065.0,221.9M1018.9,272.9L1063.4,228.5M1026.8,270.0L1060.5,236.3M1038.3,263.5L1053.9,247.8"/>
<path class="m" fill="none" d="M937.3,222.8 L942.8,222.2 C947.5,221 949,212 949.7,202 C950.5,195 953.5,190.9 959.6,190.9 L1038.7,190.9 C1045,190.9 1048,194 1049.2,202 C1050,212 1051.5,221 1055.5,222.6 L1062.5,223 L1062.5,228 L1053.6,227.1 C1049,225 1047,214 1046,203 C1045.3,197 1043,195 1036.7,195 L961.6,195 C956,195 953.6,197 953,203 C952.2,214 950.5,225 944.8,227.1 L937.3,228 Z"/>
<rect class="m" fill="#fff" x="988.3" y="184.0" width="22.7" height="15.4"/>
<path class="m" fill="#fff" d="M984,179.7 H1015.4 L1016.4,180.7 V183 L1015.4,184 H984 L983,183 V180.7 Z"/>
<path class="m" fill="none" d="M994,162.3 H1005 Q1006.6,162.3 1006.6,163.6 Q1006.6,164.9 1005,164.9 H994 Q992.2,164.9 992.2,163.6 Q992.2,162.3 994,162.3 Z"/>
<path class="m" fill="none" d="M994.5,164.9 C995,172 992,177.5 983.5,179.7 M1004.2,164.9 C1004,172 1007,177.5 1015.9,179.7"/>
<line class="t" fill="none" x1="990.3" y1="184.0" x2="990.3" y2="199.4"/>
<line class="t" fill="none" x1="1009.0" y1="184.0" x2="1009.0" y2="199.4"/>
<path class="m" fill="none" d="M960.4,282.9 V301.4 M1039.5,282.9 V301.4"/>
<line class="m" fill="none" x1="960.4" y1="301.4" x2="1039.5" y2="301.4"/>
<line class="m" fill="none" x1="961.6" y1="304.9" x2="1038.4" y2="304.9"/>
<path class="m" fill="none" d="M960.4,301.4 L962.4,305.1 L966.7,340.4 M1039.5,301.4 L1037.6,305.1 L1034.3,340.4"/>
<path class="t" fill="none" d="M966.7,340.4 C972,343.5 978,339.5 985,341.5 C992,343 1000,340 1008,341.5 C1016,343 1026,342.5 1034.3,340.4"/>
<line fill="none" stroke="#2a2a2a" stroke-width="0.85" stroke-dasharray="46 4 1.5 4" stroke-dashoffset="12" x1="41.4" y1="250.6" x2="1100.0" y2="250.6"/>
<line fill="none" stroke="#2a2a2a" stroke-width="0.85" stroke-dasharray="84 3.5 1.5 3.5" stroke-dashoffset="0" x1="138.0" y1="134.5" x2="138.0" y2="446.5"/>
<line class="t" fill="none" x1="138.0" y1="464.0" x2="138.0" y2="498.0"/>
<line fill="none" stroke="#2a2a2a" stroke-width="0.85" stroke-dasharray="60 3.5 1.5 3.5" stroke-dashoffset="0" x1="999.7" y1="158.0" x2="999.7" y2="437.5"/>
<line class="t" fill="none" x1="460.4" y1="321.4" x2="460.4" y2="386.6"/>
<line class="t" fill="none" x1="715.2" y1="317.8" x2="715.2" y2="386.6"/>
<line class="t" fill="none" x1="460.4" y1="381.3" x2="715.2" y2="381.3"/>
<path fill="#2a2a2a" d="M460.4,381.3 L466.9,379.9 L466.9,382.7 Z"/>
<path fill="#2a2a2a" d="M715.2,381.3 L708.7,382.7 L708.7,379.9 Z"/>
<text transform="translate(542.80,379.00) scale(0.815,1) translate(-0.00,0)" font-size="12.07" fill="#3a3a3a" stroke="#3a3a3a" stroke-width="0.43">203 (ход поршня)</text>
<line class="t" fill="none" x1="138.0" y1="431.2" x2="999.7" y2="431.2"/>
<path fill="#2a2a2a" d="M138.0,431.2 L144.5,429.8 L144.5,432.6 Z"/>
<path fill="#2a2a2a" d="M999.7,431.2 L993.2,432.6 L993.2,429.8 Z"/>
<text transform="translate(550.30,429.90) scale(0.763,1) translate(-0.00,0)" font-size="11.93" fill="#3a3a3a" stroke="#3a3a3a" stroke-width="0.43">500 min</text>
<line class="t" fill="none" x1="396.6" y1="217.0" x2="396.6" y2="284.3"/>
<path fill="#2a2a2a" d="M396.6,217.0 L398.0,223.5 L395.2,223.5 Z"/>
<path fill="#2a2a2a" d="M396.6,284.3 L395.2,277.8 L398.0,277.8 Z"/>
<text transform="translate(391.20,264.00) rotate(-90) scale(0.774,1) translate(-0.00,0)" font-size="12.21" fill="#3a3a3a" stroke="#3a3a3a" stroke-width="0.44">ø30</text>
<text transform="translate(384.20,244.70) rotate(-90) scale(0.931,1) translate(-0.00,0)" font-size="8.78" fill="#3a3a3a" stroke="#3a3a3a" stroke-width="0.32">H8</text>
<text transform="translate(394.60,243.20) rotate(-90) scale(1.050,1) translate(-0.00,0)" font-size="8.09" fill="#3a3a3a" stroke="#3a3a3a" stroke-width="0.29">f7</text>
<line class="t" fill="none" x1="386.3" y1="232.8" x2="386.3" y2="245.2"/>
<line class="t" fill="none" x1="618.6" y1="183.4" x2="618.6" y2="317.8"/>
<path fill="#2a2a2a" d="M618.6,183.4 L620.0,189.9 L617.2,189.9 Z"/>
<path fill="#2a2a2a" d="M618.6,317.8 L617.2,311.3 L620.0,311.3 Z"/>
<text transform="translate(616.70,264.00) rotate(-90) scale(0.795,1) translate(-0.00,0)" font-size="11.52" fill="#3a3a3a" stroke="#3a3a3a" stroke-width="0.41">ø60</text>
<text transform="translate(605.80,244.70) rotate(-90) scale(0.991,1) translate(-0.00,0)" font-size="8.09" fill="#3a3a3a" stroke="#3a3a3a" stroke-width="0.29">H9</text>
<text transform="translate(616.70,243.70) rotate(-90) scale(1.017,1) translate(-0.00,0)" font-size="8.78" fill="#3a3a3a" stroke="#3a3a3a" stroke-width="0.32">f9</text>
<line class="t" fill="none" x1="607.8" y1="233.3" x2="607.8" y2="245.2"/>
<line class="t" fill="none" x1="739.6" y1="217.0" x2="739.6" y2="284.3"/>
<path fill="#2a2a2a" d="M739.6,217.0 L741.0,223.5 L738.2,223.5 Z"/>
<path fill="#2a2a2a" d="M739.6,284.3 L738.2,277.8 L741.0,277.8 Z"/>
<text transform="translate(735.30,264.00) rotate(-90) scale(0.947,1) translate(-0.00,0)" font-size="10.56" fill="#3a3a3a" stroke="#3a3a3a" stroke-width="0.38">ø30</text>
<text transform="translate(727.30,244.50) rotate(-90) scale(0.973,1) translate(-0.00,0)" font-size="7.96" fill="#3a3a3a" stroke="#3a3a3a" stroke-width="0.29">H9</text>
<text transform="translate(738.00,243.70) rotate(-90) scale(1.017,1) translate(-0.00,0)" font-size="8.78" fill="#3a3a3a" stroke="#3a3a3a" stroke-width="0.32">f9</text>
<line class="t" fill="none" x1="729.5" y1="233.3" x2="729.5" y2="245.0"/>
<text transform="translate(23.80,50.10) scale(0.618,1) translate(-0.00,0)" font-size="22.36" fill="#3a3a3a" stroke="#3a3a3a" stroke-width="0.80">9</text>
<line class="t" fill="none" x1="9.5" y1="51.6" x2="47.1" y2="51.6"/>
<line class="t" fill="none" x1="47.1" y1="51.6" x2="75.3" y2="231.0"/>
<circle cx="75.3" cy="231.0" r="1.7" fill="#333"/>
<text transform="translate(107.80,48.60) scale(0.667,1) translate(-0.00,0)" font-size="22.36" fill="#3a3a3a" stroke="#3a3a3a" stroke-width="0.80">5</text>
<line class="t" fill="none" x1="91.0" y1="50.1" x2="129.0" y2="50.1"/>
<line class="t" fill="none" x1="129.0" y1="50.1" x2="234.8" y2="238.6"/>
<circle cx="234.8" cy="238.6" r="1.7" fill="#333"/>
<text transform="translate(155.40,48.60) scale(0.744,1) translate(-0.00,0)" font-size="22.36" fill="#3a3a3a" stroke="#3a3a3a" stroke-width="0.80">8</text>
<line class="t" fill="none" x1="142.9" y1="50.1" x2="180.5" y2="50.1"/>
<line class="t" fill="none" x1="180.5" y1="50.1" x2="284.8" y2="210.6"/>
<circle cx="284.8" cy="210.6" r="1.7" fill="#333"/>
<text transform="translate(205.50,48.60) scale(0.702,1) translate(-0.00,0)" font-size="22.36" fill="#3a3a3a" stroke="#3a3a3a" stroke-width="0.80">4</text>
<line class="t" fill="none" x1="192.5" y1="50.1" x2="230.6" y2="50.1"/>
<line class="t" fill="none" x1="230.6" y1="50.1" x2="331.5" y2="158.8"/>
<circle cx="331.5" cy="158.8" r="1.7" fill="#333"/>
<text transform="translate(275.00,47.60) scale(0.653,1) translate(-0.00,0)" font-size="22.36" fill="#3a3a3a" stroke="#3a3a3a" stroke-width="0.80">6</text>
<line class="t" fill="none" x1="262.0" y1="49.3" x2="299.6" y2="49.3"/>
<line class="t" fill="none" x1="299.6" y1="49.3" x2="344.8" y2="198.0"/>
<circle cx="344.8" cy="198.0" r="1.7" fill="#333"/>
<text transform="translate(317.20,47.60) scale(0.595,1) translate(-0.00,0)" font-size="22.36" fill="#3a3a3a" stroke="#3a3a3a" stroke-width="0.80">15</text>
<line class="t" fill="none" x1="305.6" y1="49.3" x2="344.6" y2="49.3"/>
<line class="t" fill="none" x1="344.6" y1="49.3" x2="344.6" y2="198.0"/>
<text transform="translate(359.00,47.60) scale(0.754,1) translate(-0.00,0)" font-size="22.36" fill="#3a3a3a" stroke="#3a3a3a" stroke-width="0.80">20</text>
<line class="t" fill="none" x1="347.2" y1="49.3" x2="385.3" y2="49.3"/>
<line class="t" fill="none" x1="385.3" y1="49.3" x2="400.0" y2="185.8"/>
<text transform="translate(557.60,60.70) scale(0.674,1) translate(-0.00,0)" font-size="22.36" fill="#3a3a3a" stroke="#3a3a3a" stroke-width="0.80">3</text>
<line class="t" fill="none" x1="546.4" y1="62.2" x2="584.0" y2="62.2"/>
<line class="t" fill="none" x1="546.4" y1="62.2" x2="451.5" y2="200.2"/>
<circle cx="451.5" cy="200.2" r="1.7" fill="#333"/>
<text transform="translate(618.80,60.70) scale(0.456,1) translate(-0.00,0)" font-size="22.36" fill="#3a3a3a" stroke="#3a3a3a" stroke-width="0.80">1</text>
<line class="t" fill="none" x1="604.8" y1="62.2" x2="642.9" y2="62.2"/>
<line class="t" fill="none" x1="604.8" y1="62.2" x2="623.7" y2="171.4"/>
<circle cx="623.7" cy="171.4" r="1.7" fill="#333"/>
<text transform="translate(676.20,60.70) scale(0.595,1) translate(-0.00,0)" font-size="22.36" fill="#3a3a3a" stroke="#3a3a3a" stroke-width="0.80">19</text>
<line class="t" fill="none" x1="663.4" y1="62.2" x2="701.8" y2="62.2"/>
<line class="t" fill="none" x1="663.4" y1="62.2" x2="738.0" y2="213.5"/>
<text transform="translate(681.70,83.20) scale(0.653,1) translate(-0.00,0)" font-size="22.36" fill="#3a3a3a" stroke="#3a3a3a" stroke-width="0.80">7</text>
<line class="t" fill="none" x1="663.4" y1="84.7" x2="701.8" y2="84.7"/>
<line class="t" fill="none" x1="663.4" y1="62.2" x2="663.4" y2="84.7"/>
<text transform="translate(723.00,62.70) scale(0.618,1) translate(-0.00,0)" font-size="22.36" fill="#3a3a3a" stroke="#3a3a3a" stroke-width="0.80">2</text>
<line class="t" fill="none" x1="706.8" y1="64.7" x2="745.0" y2="64.7"/>
<line class="t" fill="none" x1="745.0" y1="64.7" x2="757.7" y2="187.6"/>
<circle cx="757.7" cy="187.6" r="1.7" fill="#333"/>
<text transform="translate(902.20,43.80) scale(0.616,1) translate(-0.00,0)" font-size="22.36" fill="#3a3a3a" stroke="#3a3a3a" stroke-width="0.80">12</text>
<line class="t" fill="none" x1="887.1" y1="45.5" x2="926.0" y2="45.5"/>
<line class="t" fill="none" x1="926.0" y1="45.5" x2="949.6" y2="203.0"/>
<text transform="translate(959.60,43.80) scale(0.637,1) translate(-0.00,0)" font-size="22.36" fill="#3a3a3a" stroke="#3a3a3a" stroke-width="0.80">18</text>
<line class="t" fill="none" x1="946.2" y1="45.5" x2="984.8" y2="45.5"/>
<line class="t" fill="none" x1="946.2" y1="45.5" x2="955.6" y2="240.3"/>
<circle cx="955.6" cy="240.3" r="1.7" fill="#333"/>
<text transform="translate(1009.40,45.80) scale(0.719,1) translate(-0.00,0)" font-size="22.36" fill="#3a3a3a" stroke="#3a3a3a" stroke-width="0.80">22</text>
<line class="t" fill="none" x1="996.4" y1="47.3" x2="1034.1" y2="47.3"/>
<line class="t" fill="none" x1="996.4" y1="47.3" x2="994.7" y2="174.6"/>
<circle cx="994.7" cy="174.6" r="1.7" fill="#333"/>
<text transform="translate(1052.90,45.80) scale(0.637,1) translate(-0.00,0)" font-size="22.36" fill="#3a3a3a" stroke="#3a3a3a" stroke-width="0.80">10</text>
<line class="t" fill="none" x1="1038.4" y1="47.3" x2="1076.7" y2="47.3"/>
<line class="t" fill="none" x1="1038.4" y1="47.3" x2="1019.0" y2="233.5"/>
<circle cx="1019.0" cy="233.5" r="1.7" fill="#333"/>
<text transform="translate(1108.90,45.80) scale(0.481,1) translate(-0.00,0)" font-size="22.36" fill="#3a3a3a" stroke="#3a3a3a" stroke-width="0.80">11</text>
<line class="t" fill="none" x1="1092.9" y1="47.3" x2="1131.2" y2="47.3"/>
<line class="t" fill="none" x1="1092.9" y1="47.3" x2="1054.5" y2="226.0"/>
<text transform="translate(1167.40,45.80) scale(0.566,1) translate(-0.00,0)" font-size="22.36" fill="#3a3a3a" stroke="#3a3a3a" stroke-width="0.80">17</text>
<line class="t" fill="none" x1="1152.4" y1="47.3" x2="1190.6" y2="47.3"/>
<line class="t" fill="none" x1="1152.4" y1="47.3" x2="1064.2" y2="276.1"/>
<text transform="translate(374.40,395.90) scale(0.641,1) translate(-0.00,0)" font-size="22.36" fill="#3a3a3a" stroke="#3a3a3a" stroke-width="0.80">14</text>
<line class="t" fill="none" x1="363.2" y1="398.2" x2="401.5" y2="398.2"/>
<line class="t" fill="none" x1="363.2" y1="398.2" x2="353.8" y2="347.8"/>
<circle cx="353.8" cy="347.8" r="1.7" fill="#333"/>
<text transform="translate(459.20,584.30) scale(0.591,1) translate(-0.00,0)" font-size="22.36" fill="#3a3a3a" stroke="#3a3a3a" stroke-width="0.80">16</text>
<line class="t" fill="none" x1="454.1" y1="586.5" x2="477.4" y2="586.5"/>
<line class="t" fill="none" x1="454.1" y1="586.5" x2="385.9" y2="548.4"/>
<text transform="translate(530.60,28.00) scale(0.824,1) translate(-0.00,0)" font-size="24.69" fill="#3a3a3a" stroke="#3a3a3a" stroke-width="0.89">A</text>
<line class="m" fill="none" x1="559.4" y1="22.0" x2="568.2" y2="22.0"/>
<text transform="translate(582.70,28.00) scale(0.812,1) translate(-0.00,0)" font-size="24.69" fill="#3a3a3a" stroke="#3a3a3a" stroke-width="0.89">A</text>
<text transform="translate(617.60,581.70) scale(0.789,1) translate(-0.00,0)" font-size="17.15" fill="#3a3a3a" stroke="#3a3a3a" stroke-width="0.62">a' =210 правый</text>
<text transform="translate(617.60,639.40) scale(0.803,1) translate(-0.00,0)" font-size="17.15" fill="#3a3a3a" stroke="#3a3a3a" stroke-width="0.62">a' =330 левый</text>
<text transform="translate(1177.60,10.80) scale(0.867,1) translate(-0.00,0)" font-size="4.94" fill="#222" stroke="#222" stroke-width="0.18">a</text>
<text transform="translate(1180.80,11.30) scale(1.046,1) translate(-0.00,0)" font-size="6.58" fill="#222" stroke="#222" stroke-width="0.24">°</text>
<text transform="translate(1187.10,10.80) scale(1.035,1) translate(-0.00,0)" font-size="4.39" fill="#222" stroke="#222" stroke-width="0.16">000</text>
<clipPath id="c30"><path d="M138.75,604.25 A90,90 0 1 0 318.75,604.25 A90,90 0 1 0 138.75,604.25 Z M161.75,604.25 A67,67 0 1 1 295.75,604.25 A67,67 0 1 1 161.75,604.25 Z" clip-rule="evenodd"/></clipPath>
<path clip-path="url(#c30)" fill="none" stroke="#2c2c2c" stroke-width="0.8" d="M341.8,436.5L396.5,491.2M319.1,423.3L409.7,513.9M302.1,415.8L417.2,530.9M287.6,410.7L422.3,545.4M274.6,407.3L425.7,558.4M262.8,404.9L428.1,570.2M251.7,403.3L429.7,581.3M241.3,402.4L430.6,591.7M231.5,402.0L431.0,601.5M222.1,402.1L430.9,610.9M213.1,402.6L430.4,619.9M204.5,403.5L429.5,628.5M196.2,404.6L428.4,636.8M188.2,406.1L426.9,644.8M180.5,407.9L425.1,652.5M173.0,409.8L423.2,660.0M165.7,412.1L420.9,667.3M158.7,414.5L418.5,674.3M151.9,417.2L415.8,681.1M145.3,420.0L413.0,687.7M138.8,423.1L409.9,694.2M132.6,426.3L406.7,700.4M126.5,429.7L403.3,706.5M120.6,433.3L399.7,712.4M114.9,437.1L395.9,718.1M109.4,441.0L392.0,723.6M104.0,445.1L387.9,729.0M98.7,449.3L383.7,734.3M93.7,453.7L379.3,739.3M88.8,458.3L374.7,744.2M84.0,463.0L370.0,749.0M79.4,467.9L365.1,753.6M75.0,472.9L360.1,758.0M70.7,478.1L354.9,762.3M66.5,483.5L349.5,766.5M62.6,489.0L344.0,770.4M58.8,494.6L338.4,774.2M55.2,500.5L332.5,777.8M51.7,506.5L326.5,781.3M48.4,512.7L320.3,784.6M45.3,519.1L313.9,787.7M42.4,525.6L307.4,790.6M39.7,532.4L300.6,793.3M37.2,539.4L293.6,795.8M34.9,546.6L286.4,798.1M32.8,554.0L279.0,800.2M31.0,561.7L271.3,802.0M29.5,569.6L263.4,803.5M28.2,577.8L255.2,804.8M27.3,586.3L246.7,805.7M26.7,595.2L237.8,806.3M26.5,604.5L228.5,806.5M26.7,614.2L218.8,806.3M27.5,624.5L208.5,805.5M28.9,635.3L197.7,804.1M31.1,647.0L186.0,801.9M34.2,659.6L173.4,798.8M38.8,673.6L159.4,794.2M45.5,689.8L143.2,787.5M56.6,710.4L122.6,776.4"/>
<clipPath id="c31"><path d="M183.75,604.25 A45,45 0 1 0 273.75,604.25 A45,45 0 1 0 183.75,604.25 Z M202.25,604.25 A26.5,26.5 0 1 1 255.25,604.25 A26.5,26.5 0 1 1 202.25,604.25 Z" clip-rule="evenodd"/></clipPath>
<path clip-path="url(#c31)" fill="none" stroke="#2c2c2c" stroke-width="0.8" d="M273.1,512.8L320.2,559.9M257.6,506.8L326.2,575.4M245.3,504.0L329.0,587.7M234.7,502.8L330.2,598.3M225.1,502.7L330.3,607.9M216.3,503.4L329.6,616.7M208.2,504.7L328.3,624.8M200.6,506.6L326.4,632.4M193.4,509.0L324.0,639.6M186.7,511.7L321.3,646.3M180.4,514.9L318.1,652.6M174.4,518.4L314.6,658.6M168.8,522.2L310.8,664.2M163.5,526.4L306.6,669.5M158.5,530.8L302.2,674.5M153.8,535.6L297.4,679.2M149.4,540.7L292.3,683.6M145.4,546.2L286.8,687.6M141.6,551.9L281.1,691.4M138.3,558.0L275.0,694.7M135.2,564.5L268.5,697.8M132.6,571.3L261.7,700.4M130.4,578.6L254.4,702.6M128.7,586.4L246.6,704.3M127.6,594.7L238.3,705.4M127.1,603.7L229.3,705.9M127.6,613.6L219.4,705.4M129.2,624.8L208.2,703.8M132.8,637.9L195.1,700.2M141.0,655.5L177.5,692.0"/>
<clipPath id="c32"><path d="M203.45,604.25 A25.3,25.3 0 1 0 254.05,604.25 A25.3,25.3 0 1 0 203.45,604.25 Z" clip-rule="nonzero"/></clipPath>
<path clip-path="url(#c32)" fill="none" stroke="#2c2c2c" stroke-width="0.8" d="M174.4,585.3L209.8,549.9M171.5,597.8L222.3,547.0M171.3,607.7L232.2,546.8M172.4,616.1L240.6,547.9M174.5,623.6L248.1,550.0M177.4,630.4L254.9,552.9M181.0,636.4L260.9,556.5M185.2,641.9L266.4,560.7M189.9,646.7L271.2,565.4M195.2,651.0L275.5,570.7M201.1,654.8L279.3,576.6M207.7,657.8L282.3,583.2M215.0,660.1L284.6,590.5M223.2,661.6L286.1,598.7M232.7,661.7L286.2,608.2M244.3,659.7L284.2,619.8M263.2,650.4L274.9,638.7"/>
<circle class="m" fill="none" cx="228.8" cy="604.2" r="90.0"/>
<circle class="m" fill="none" cx="228.8" cy="604.2" r="67.0"/>
<circle class="m" fill="none" cx="228.8" cy="604.2" r="45.0"/>
<circle class="m" fill="none" cx="228.8" cy="604.2" r="26.5"/>
<circle class="m" fill="none" cx="228.8" cy="604.2" r="25.3"/>
<line fill="none" stroke="#2a2a2a" stroke-width="0.85" stroke-dasharray="52 3 1.5 3" stroke-dashoffset="0" x1="132.6" y1="604.2" x2="351.0" y2="604.2"/>
<line fill="none" stroke="#2a2a2a" stroke-width="0.85" stroke-dasharray="46 3 1.5 3" stroke-dashoffset="0" x1="228.8" y1="508.0" x2="228.8" y2="699.0"/>
<path fill="none" stroke="#444" stroke-width="2.8" d="M228.3,615.2 V604.8 L238.2,598.4"/>
<line class="t" fill="none" x1="254.2" y1="567.1" x2="265.5" y2="577.2"/>
<line class="k" fill="none" x1="228.6" y1="708.0" x2="228.6" y2="736.8"/>
<line class="t" fill="none" x1="229.5" y1="730.5" x2="266.0" y2="730.5"/>
<path fill="#2a2a2a" d="M230.0,730.5 L240.5,728.3 L240.5,732.7 Z"/>
<text transform="translate(245.00,756.00) scale(0.833,1) translate(-0.00,0)" font-size="21.95" fill="#3a3a3a" stroke="#3a3a3a" stroke-width="0.79">A</text>
<line class="k" fill="none" x1="392.0" y1="509.2" x2="417.9" y2="495.0"/>
<line class="t" fill="none" x1="430.4" y1="530.0" x2="413.3" y2="500.5"/>
<path fill="#2a2a2a" d="M413.3,500.5 L420.1,508.1 L416.5,510.2 Z"/>
<text transform="translate(430.80,519.00) scale(0.765,1) translate(-0.00,0)" font-size="24.69" fill="#3a3a3a" stroke="#3a3a3a" stroke-width="0.89">A</text>
<g transform="translate(228.75,604.25) rotate(-30)">
<path class="m" fill="#fff" d="M73.5,-12.2 L112,-19 L114,-34 H131 V-26 H174.5 V26 H131 V34 H114 L112,19 L73.5,12.2 Q67.5,6 68.5,0 Q67.5,-6 73.5,-12.2 Z"/>
<clipPath id="c33"><path d="M73.5,-12.2 L112,-19 L114,-34 H131 V-26 H174.5 V-20 L160,-12 H127 L123,-8.6 H71.5 Z" clip-rule="nonzero"/></clipPath>
<path clip-path="url(#c33)" fill="none" stroke="#222" stroke-width="0.75" d="M152.9,-66.3L168.0,-51.2M143.5,-71.3L173.0,-41.8M136.9,-73.5L175.2,-35.2M131.4,-74.7L176.4,-29.7M126.4,-75.2L176.9,-24.7M122.0,-75.3L177.0,-20.3M117.8,-75.1L176.8,-16.1M113.9,-74.6L176.3,-12.2M110.3,-73.8L175.5,-8.6M106.9,-72.9L174.6,-5.2M103.6,-71.7L173.4,-1.9M100.5,-70.4L172.1,1.2M97.6,-69.0L170.7,4.1M94.8,-67.4L169.1,6.9M92.2,-65.7L167.4,9.5M89.6,-63.8L165.5,12.1M87.2,-61.8L163.5,14.5M85.0,-59.7L161.4,16.7M82.8,-57.5L159.2,18.9M80.8,-55.1L156.8,20.9M78.9,-52.6L154.3,22.8M77.2,-50.0L151.7,24.5M75.6,-47.2L148.9,26.1M74.1,-44.3L146.0,27.6M72.8,-41.2L142.9,28.9M71.6,-38.0L139.7,30.1M70.6,-34.6L136.3,31.1M69.8,-31.0L132.7,31.9M69.3,-27.2L128.9,32.4M69.0,-23.1L124.8,32.7M69.0,-18.7L120.4,32.7M69.5,-13.8L115.5,32.2M70.5,-8.4L110.1,31.2M72.5,-2.0L103.7,29.2M76.7,6.5L95.2,25.0"/>
<clipPath id="c34"><path d="M73.5,12.2 L112,19 L114,34 H131 V26 H174.5 V20 L160,12 H127 L123,8.6 H71.5 Z" clip-rule="nonzero"/></clipPath>
<path clip-path="url(#c34)" fill="none" stroke="#222" stroke-width="0.75" d="M149.6,-25.7L170.0,-5.3M141.5,-29.5L173.8,2.8M135.3,-31.3L175.6,9.0M129.9,-32.3L176.6,14.4M125.1,-32.7L177.0,19.2M120.7,-32.7L177.0,23.6M116.7,-32.4L176.7,27.6M112.9,-31.8L176.1,31.4M109.3,-31.0L175.3,35.0M105.9,-30.0L174.3,38.4M102.7,-28.8L173.1,41.6M99.7,-27.5L171.8,44.6M96.8,-26.0L170.3,47.5M94.0,-24.3L168.6,50.3M91.4,-22.6L166.9,52.9M88.9,-20.7L165.0,55.4M86.6,-18.6L162.9,57.7M84.4,-16.5L160.8,59.9M82.3,-14.2L158.5,62.0M80.3,-11.8L156.1,64.0M78.4,-9.3L153.6,65.9M76.7,-6.6L150.9,67.6M75.1,-3.8L148.1,69.2M73.7,-0.8L145.1,70.6M72.4,2.3L142.0,71.9M71.3,5.5L138.8,73.0M70.4,9.0L135.3,73.9M69.7,12.7L131.6,74.6M69.2,16.6L127.7,75.1M69.0,20.7L123.6,75.3M69.1,25.3L119.0,75.2M69.7,30.2L114.1,74.6M71.0,35.9L108.4,73.3M73.4,42.7L101.6,70.9M79.0,52.7L91.6,65.3"/>
<path class="m" fill="none" d="M73.5,-12.2 L112,-19 L114,-34 H131 V-26 H174.5 V-20 L160,-12 H127 L123,-8.6 H71.5 Z"/>
<path class="m" fill="none" d="M73.5,12.2 L112,19 L114,34 H131 V26 H174.5 V20 L160,12 H127 L123,8.6 H71.5 Z"/>
<path class="m" fill="none" d="M73.5,-12.2 Q67.5,-6 68.5,0 Q67.5,6 73.5,12.2"/>
<path class="t" fill="none" d="M71.5,-8.6 Q70,0 71.5,8.6"/>
<line class="m" fill="none" x1="127.0" y1="-12.0" x2="127.0" y2="12.0"/>
<line class="t" fill="none" x1="123.0" y1="-8.6" x2="123.0" y2="8.6"/>
<line class="m" fill="none" x1="160.0" y1="-12.0" x2="160.0" y2="12.0"/>
<path class="m" fill="url(#dots)" d="M128,-30 V-33.5 H131.5 V-29.5 H178.5 V29.5 H131.5 V33.5 H128 V30 H128.5 V26 H174.5 V-26 H128.5 V-30 Z"/>
<line fill="none" stroke="#2a2a2a" stroke-width="0.7" stroke-dasharray="24 3 1.5 3" x1="72" y1="0" x2="172" y2="0"/>
</g>
<path class="t" fill="none" d="M329.4,546.1 A116.2,116.2 0 0 1 344.9,604.2"/>
<path fill="#2a2a2a" d="M344.9,604.2 L343.2,597.3 L346.2,597.2 Z"/>
<path fill="#2a2a2a" d="M329.4,546.1 L334.4,551.3 L331.8,552.9 Z"/>
<path class="t" fill="none" d="M342.3,575.6 L388.1,616.2 H395"/>
<text transform="translate(396.00,621.30) scale(0.800,1) translate(-0.00,0)" font-size="11.80" fill="#3a3a3a" stroke="#3a3a3a" stroke-width="0.42">a</text>
<text transform="translate(402.00,624.80) scale(0.659,1) translate(-0.00,0)" font-size="16.74" fill="#3a3a3a" stroke="#3a3a3a" stroke-width="0.60">°</text>
<circle cx="278.4" cy="575.3" r="0.6" fill="#333"/>
</svg>
</body></html>
